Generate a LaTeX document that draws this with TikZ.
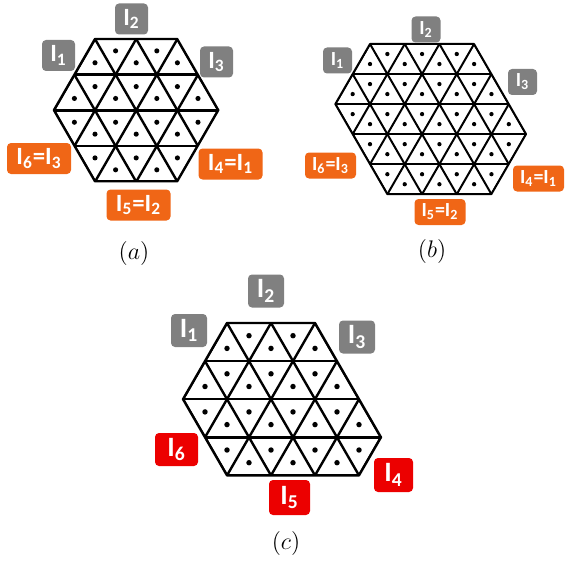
\documentclass[tikz,border=0pt]{standalone}
\usepackage{fontspec}
\newfontfamily\tagfont{Carlito}
\usetikzlibrary{calc}
\definecolor{taggray}{RGB}{128,128,128}
\definecolor{tagorange}{RGB}{240,102,22}
\definecolor{tagred}{RGB}{236,0,0}
\def\h{0.866}
% grid lines and centroid dots of the triangular lattice (clipped by the caller)
\newcommand{\trimesh}{%
  \foreach \j in {1,...,4} \draw[mesh] (-3,\j*\h) -- (8,\j*\h);
  \foreach \i in {-5,...,9} {\draw[mesh] (\i-4,-8*\h) -- (\i+4,8*\h); \draw[mesh] (\i+4,-8*\h) -- (\i-4,8*\h);}
  \foreach \j in {0,...,4} \foreach \i in {-3,...,8} {
    \fill ({\i-\j/2},{(\j+2/3)*\h}) circle[radius=0.062];
    \fill ({\i-\j/2+0.5},{(\j+1/3)*\h}) circle[radius=0.062];}}
\tikzset{
  tag/.style={rounded corners=2pt, text=white, inner sep=0pt},
  tagA/.style={tag, font=\tagfont\bfseries\fontsize{12.4pt}{14pt}\selectfont, minimum height=15.5pt, minimum width=16.5pt},
  tagB/.style={tag, font=\tagfont\bfseries\fontsize{10pt}{12pt}\selectfont, minimum height=13pt, minimum width=14.5pt},
  tagC/.style={tag, font=\tagfont\bfseries\fontsize{14pt}{16pt}\selectfont, minimum height=16.5pt, minimum width=18pt},
  caption/.style={font=\fontsize{12pt}{14pt}\selectfont}
}

\begin{document}
\begin{tikzpicture}[x=0.5pt,y=-0.5pt]
 \useasboundingbox (0,0) rectangle (565,561);
 % (a)
 \begin{scope}[shift={(95,39)},scale=41.2,mesh/.style={line width=1.2pt}]
  \coordinate (aTL) at (0,0); \coordinate (aTR) at (2,0); \coordinate (aR) at (3,2*\h);
  \coordinate (aBR) at (2,4*\h); \coordinate (aBL) at (0,4*\h); \coordinate (aL) at (-1,2*\h);
  \begin{scope}
   \clip (aTL)--(aTR)--(aR)--(aBR)--(aBL)--(aL)--cycle;
   \trimesh
  \end{scope}
  \draw[line width=1.2pt,line join=round] (aTL)--(aTR)--(aR)--(aBR)--(aBL)--(aL)--cycle;
 \end{scope}
 \node[tagA,fill=taggray] (a1) at (58.5,55.5) {I\textsubscript{1}};
 \node[tagA,fill=taggray] (a2) at (131.5,19) {I\textsubscript{2}};
 \node[tagA,fill=taggray] (a3) at (216.5,62) {I\textsubscript{3}};
 \node[tagA,fill=tagorange,minimum width=32pt] (a6) at (39,158.5) {I\textsubscript{6}=I\textsubscript{3}};
 \node[tagA,fill=tagorange,minimum width=32pt] (a4) at (230.5,164) {I\textsubscript{4}=I\textsubscript{1}};
 \node[tagA,fill=tagorange,minimum width=32pt] (a5) at (138.5,205) {I\textsubscript{5}=I\textsubscript{2}};
 \node[caption] (capa) at (134,253) {$(a)$};
 % (b)
 \begin{scope}[shift={(370,44)},scale=34.7,mesh/.style={line width=1pt}]
  \coordinate (bTL) at (0,0); \coordinate (bTR) at (3,0); \coordinate (bR) at (4.5,3*\h);
  \coordinate (bBR) at (3.5,5*\h); \coordinate (bBL) at (0.5,5*\h); \coordinate (bL) at (-1,2*\h);
  \begin{scope}
   \clip (bTL)--(bTR)--(bR)--(bBR)--(bBL)--(bL)--cycle;
   \trimesh
  \end{scope}
  \draw[line width=1pt,line join=round] (bTL)--(bTR)--(bR)--(bBR)--(bBL)--(bL)--cycle;
 \end{scope}
 \node[tagB,fill=taggray] (b1) at (337.5,60.5) {I\textsubscript{1}};
 \node[tagB,fill=taggray] (b2) at (426,29.5) {I\textsubscript{2}};
 \node[tagB,fill=taggray] (b3) at (522.5,82) {I\textsubscript{3}};
 \node[tagB,fill=tagorange,minimum width=25.5pt] (b6) at (330.5,165.5) {I\textsubscript{6}=I\textsubscript{3}};
 \node[tagB,fill=tagorange,minimum width=25.5pt] (b4) at (538.5,178.5) {I\textsubscript{4}=I\textsubscript{1}};
 \node[tagB,fill=tagorange,minimum width=25.5pt] (b5) at (440,212) {I\textsubscript{5}=I\textsubscript{2}};
 \node[caption] (capb) at (432,251) {$(b)$};
 % (c)
 \begin{scope}[shift={(227,323)},scale=44,mesh/.style={line width=1.2pt}]
  \coordinate (cTL) at (0,0); \coordinate (cTR) at (2,0); \coordinate (cR) at (3.5,3*\h);
  \coordinate (cBR) at (3,4*\h); \coordinate (cBL) at (0,4*\h); \coordinate (cL) at (-1,2*\h);
  \begin{scope}
   \clip (cTL)--(cTR)--(cR)--(cBR)--(cBL)--(cL)--cycle;
   \trimesh
  \end{scope}
  \draw[line width=1.2pt,line join=round] (cTL)--(cTR)--(cR)--(cBR)--(cBL)--(cL)--cycle;
 \end{scope}
 \node[tagC,fill=taggray] (c1) at (189,330.5) {I\textsubscript{1}};
 \node[tagC,fill=taggray] (c2) at (266,291) {I\textsubscript{2}};
 \node[tagC,fill=taggray] (c3) at (357,337) {I\textsubscript{3}};
 \node[tagC,fill=tagred,minimum width=21.5pt] (c6) at (176.5,449.5) {I\textsubscript{6}};
 \node[tagC,fill=tagred,minimum width=20.5pt,minimum height=17.5pt] (c5) at (289.5,497.5) {I\textsubscript{5}};
 \node[tagC,fill=tagred,minimum width=19.5pt,minimum height=17pt] (c4) at (393.5,475) {I\textsubscript{4}};
 \node[caption] (capc) at (286,543) {$(c)$};
\end{tikzpicture}
\end{document}
